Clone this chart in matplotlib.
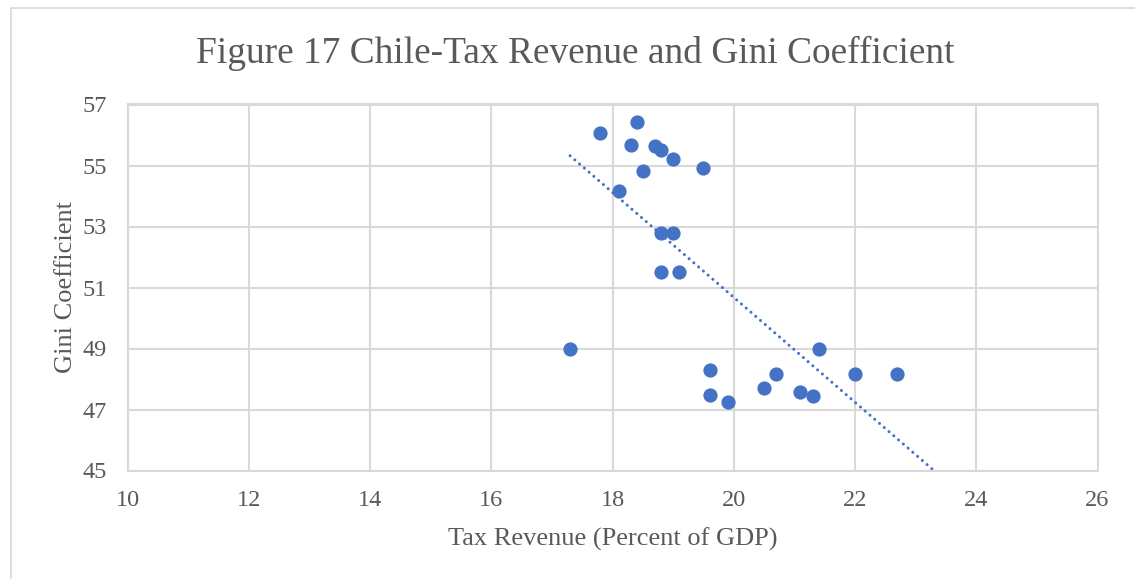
import numpy as np
import matplotlib
matplotlib.use('Agg')
import matplotlib.pyplot as plt
from matplotlib.patches import Rectangle

# data
tax_revenue = [17.8, 18.4, 18.3, 18.7, 18.8, 19.0, 18.5, 19.5, 18.1, 18.8, 19.0, 18.8,
               19.1, 17.3, 19.6, 19.6, 19.9, 20.5, 20.7, 21.1, 21.3, 21.4, 22.0, 22.7]
gini = [56.05, 56.44, 55.68, 55.65, 55.52, 55.22, 54.83, 54.93, 54.17, 52.79, 52.79, 51.51,
        51.51, 48.97, 48.28, 47.49, 47.26, 47.69, 48.18, 47.59, 47.43, 49.0, 48.18, 48.18]
x_ticks = [10, 12, 14, 16, 18, 20, 22, 24, 26]
y_ticks = [45, 47, 49, 51, 53, 55, 57]
FORECAST_FWD = 1.0

BLUE = '#4472C4'
GREY_TXT = '#595959'
GRID = '#D9D9D9'

plt.rcParams['font.family'] = ['Liberation Serif', 'DejaVu Serif']

W, H = 1135, 579
fig = plt.figure(figsize=(W / 100, H / 100), dpi=100)
fig.patch.set_facecolor('white')

# chart-area border (runs off the right/bottom edge like the screenshot)
fig.patches.append(Rectangle((11 / W, -0.05), 1.2, 1 - 8 / H + 0.05, transform=fig.transFigure,
                             fill=False, edgecolor=GRID, lw=1.2))

ax = fig.add_axes([127.5 / W, 1 - 470.5 / H, (1097.5 - 127.5) / W, (470.5 - 104.5) / H])
ax.set_xlim(10, 26)
ax.set_ylim(45, 57)
ax.set_xticks(x_ticks)
ax.set_yticks(y_ticks)
ax.grid(True, color=GRID, lw=1.5)
ax.set_axisbelow(True)
for s in ax.spines.values():
    s.set_color(GRID)
    s.set_linewidth(1.5)
ax.tick_params(length=0, labelsize=17.5, labelcolor=GREY_TXT)
ax.tick_params(axis='x', pad=14)
ax.tick_params(axis='y', pad=15)

ax.scatter(tax_revenue, gini, s=105, color=BLUE, zorder=3, linewidths=0)

# linear trendline (excel style, forecast forward)
x = np.array(tax_revenue)
m, b = np.polyfit(x, np.array(gini), 1)
xt = np.array([x.min(), x.max() + FORECAST_FWD])
ax.plot(xt, m * xt + b, color=BLUE, lw=2.2, linestyle=(0, (0.01, 2.05)),
        dash_capstyle='round', zorder=2)

ax.set_xlabel('Tax Revenue (Percent of GDP)', fontsize=19, color=GREY_TXT, labelpad=12)
ax.set_ylabel('Gini Coefficient', fontsize=19, color=GREY_TXT, labelpad=4)
fig.text(575 / W, 1 - 53 / H, 'Figure 17 Chile-Tax Revenue and Gini Coefficient',
         fontsize=26.9, color=GREY_TXT, ha='center', va='center')

fig.savefig('out.png', dpi=100)
